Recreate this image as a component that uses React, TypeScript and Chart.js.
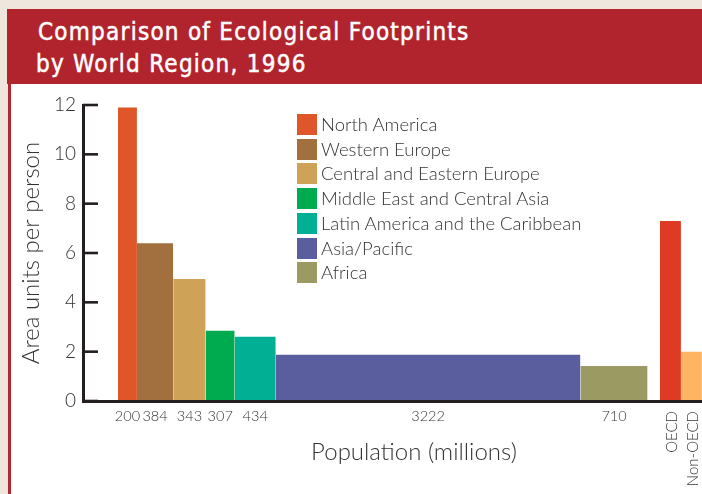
import { useEffect, useRef } from 'react';
import { Chart, registerables } from 'chart.js';

Chart.register(...registerables);

// Regions, their 1996 population (millions) and footprint (area units per person)
const regions = [
  'North America',
  'Western Europe',
  'Central and Eastern Europe',
  'Middle East and Central Asia',
  'Latin America and the Caribbean',
  'Asia/Pacific',
  'Africa',
];
const population = [200, 384, 343, 307, 434, 3222, 710];
const footprint = [11.9, 6.4, 4.95, 2.85, 2.6, 1.87, 1.42];
const regionColors = ['#e0562b', '#a26f3f', '#cfa357', '#00aa4f', '#00af94', '#5b5e9e', '#9c9a63'];

// OECD vs non-OECD comparison
const groups = ['OECD', 'Non-OECD'];
const groupFootprint = [7.3, 2.0];
const groupColors = ['#de3a24', '#fdb564'];

const yTickValues = [0, 2, 4, 6, 8, 10, 12];

// Horizontal layout along the population axis (millions)
const X_MAX = 7000;
const FIRST_START = 370;
const GROUP_GAP = 130;
const GROUP_WIDTH = 222;

const FONT = "Lato, 'Open Sans', 'DejaVu Sans', sans-serif";
const TITLE_FONT = "'Liberation Sans Narrow', 'DejaVu Sans Condensed', sans-serif";
const TEXT = '#333333';
const AXIS = '#231f20';

type Span = { start: number; end: number };

function buildSpans() {
  const regionSpans: Span[] = [];
  let x = FIRST_START;
  population.forEach((p) => {
    regionSpans.push({ start: x, end: x + p });
    x += p;
  });
  x += GROUP_GAP;
  const groupSpans: Span[] = [];
  groups.forEach(() => {
    groupSpans.push({ start: x, end: x + GROUP_WIDTH });
    x += GROUP_WIDTH;
  });
  return { regionSpans, groupSpans };
}

const titleStyle = {
  position: 'absolute' as const,
  color: '#ffffff',
  fontFamily: TITLE_FONT,
  fontWeight: 400,
  fontSize: 24,
  lineHeight: '24px',
  letterSpacing: '1.25px',
  whiteSpace: 'nowrap' as const,
  WebkitTextStroke: '0.5px #ffffff',
};

export default function App() {
  const canvasRef = useRef<HTMLCanvasElement | null>(null);

  useEffect(() => {
    const canvas = canvasRef.current;
    if (!canvas) return;
    const { regionSpans, groupSpans } = buildSpans();

    const block = (span: Span, value: number, color: string) => ({
      data: [
        { x: span.start, y: value },
        { x: span.end, y: value },
      ],
      fill: 'origin',
      backgroundColor: color,
      borderColor: color,
      borderWidth: 0,
      pointRadius: 0,
      pointHoverRadius: 0,
      tension: 0,
    });

    const datasets = [
      ...regionSpans.map((s, i) => ({ label: regions[i], ...block(s, footprint[i], regionColors[i]) })),
      ...groupSpans.map((s, i) => ({ label: groups[i], ...block(s, groupFootprint[i], groupColors[i]) })),
    ];

    const centers = regionSpans.map((s) => (s.start + s.end) / 2);

    // short tick marks pointing into the plot from the y axis
    const inwardTicks = {
      id: 'inwardTicks',
      beforeDatasetsDraw(chart: any) {
        const { ctx, chartArea } = chart;
        const y = chart.scales.y;
        ctx.save();
        ctx.strokeStyle = AXIS;
        ctx.lineWidth = 2.6;
        yTickValues.forEach((v) => {
          const py = y.getPixelForValue(v);
          ctx.beginPath();
          ctx.moveTo(chartArea.left, py);
          ctx.lineTo(chartArea.left + 15, py);
          ctx.stroke();
        });
        ctx.restore();
      },
    };

    // vertical labels under the OECD / Non-OECD bars
    const groupLabels = {
      id: 'groupLabels',
      afterDraw(chart: any) {
        const { ctx } = chart;
        const x = chart.scales.x;
        const y = chart.scales.y;
        ctx.save();
        ctx.font = `300 15px ${FONT}`;
        ctx.fillStyle = TEXT;
        ctx.textAlign = 'right';
        ctx.textBaseline = 'middle';
        groupSpans.forEach((s, i) => {
          const cx = x.getPixelForValue((s.start + s.end) / 2);
          ctx.save();
          ctx.translate(cx + 2, y.getPixelForValue(0) + 10);
          ctx.rotate(-Math.PI / 2);
          ctx.fillText(groups[i], 0, 0);
          ctx.restore();
        });
        ctx.restore();
      },
    };

    const chart = new Chart(canvas, {
      type: 'line',
      data: { datasets: datasets as any },
      plugins: [inwardTicks, groupLabels],
      options: {
        animation: false,
        responsive: false,
        events: [],
        layout: { padding: { top: 20, left: 0, right: 0, bottom: 0 } },
        plugins: {
          legend: { display: false },
          tooltip: { enabled: false },
          title: { display: false },
        },
        scales: {
          x: {
            type: 'linear',
            min: 0,
            max: X_MAX,
            afterFit: (scale: any) => {
              scale.height = 93;
            },
            afterBuildTicks: (scale: any) => {
              scale.ticks = centers.map((v) => ({ value: v }));
            },
            grid: { display: false, drawTicks: false },
            border: { display: true, color: AXIS, width: 3, z: 1 },
            ticks: {
              autoSkip: false,
              maxRotation: 0,
              minRotation: 0,
              padding: 7,
              color: TEXT,
              font: { family: FONT, size: 14.5, weight: '300' as any },
              callback: (_v: any, i: number) => String(population[i]),
            },
            title: {
              display: true,
              text: 'Population (millions)',
              color: TEXT,
              font: { family: FONT, size: 24, weight: '300' as any },
              padding: { top: 0, bottom: 27 },
            },
          },
          y: {
            min: 0,
            max: 12,
            afterFit: (scale: any) => {
              scale.width = 72;
            },
            afterBuildTicks: (scale: any) => {
              scale.ticks = yTickValues.map((v) => ({ value: v }));
            },
            grid: { display: false, drawTicks: false },
            border: { display: true, color: AXIS, width: 3, z: 1 },
            ticks: {
              padding: 7,
              color: TEXT,
              font: { family: FONT, size: 19, weight: '300' as any },
            },
            title: {
              display: true,
              text: 'Area units per person',
              color: TEXT,
              font: { family: FONT, size: 24, weight: '300' as any },
              padding: { top: 6, bottom: 0 },
            },
          },
        },
      },
    });
    return () => chart.destroy();
  }, []);

  return (
    <div
      style={{
        position: 'fixed',
        inset: 0,
        background: '#efe7dd',
        overflow: 'hidden',
      }}
    >
      <div
        style={{
          position: 'absolute',
          left: 8,
          top: 9,
          width: 820,
          height: 600,
          background: '#ffffff',
          borderLeft: '3px solid #b5272f',
        }}
      />
      <div
        style={{
          position: 'absolute',
          left: 7,
          top: 9,
          width: 820,
          height: 75,
          background: '#b1242d',
        }}
      />
      <div style={{ ...titleStyle, left: 38, top: 20 }}>Comparison of Ecological Footprints</div>
      <div style={{ ...titleStyle, left: 36, top: 52 }}>by World Region, 1996</div>
      <div style={{ position: 'absolute', left: 11, top: 85, width: 734, height: 409 }}>
        <canvas ref={canvasRef} width={734} height={409} style={{ display: 'block' }} />
      </div>
      {regions.map((name, i) => (
        <div
          key={name}
          style={{
            position: 'absolute',
            left: 297,
            top: 114 + i * 24.7,
            height: 21,
            display: 'flex',
            alignItems: 'center',
            whiteSpace: 'nowrap',
          }}
        >
          <div style={{ width: 20, height: 21, background: regionColors[i] }} />
          <span
            style={{
              marginLeft: 4,
              fontFamily: FONT,
              fontWeight: 300,
              fontSize: 18.5,
              color: TEXT,
              lineHeight: '21px',
            }}
          >
            {name}
          </span>
        </div>
      ))}
    </div>
  );
}
